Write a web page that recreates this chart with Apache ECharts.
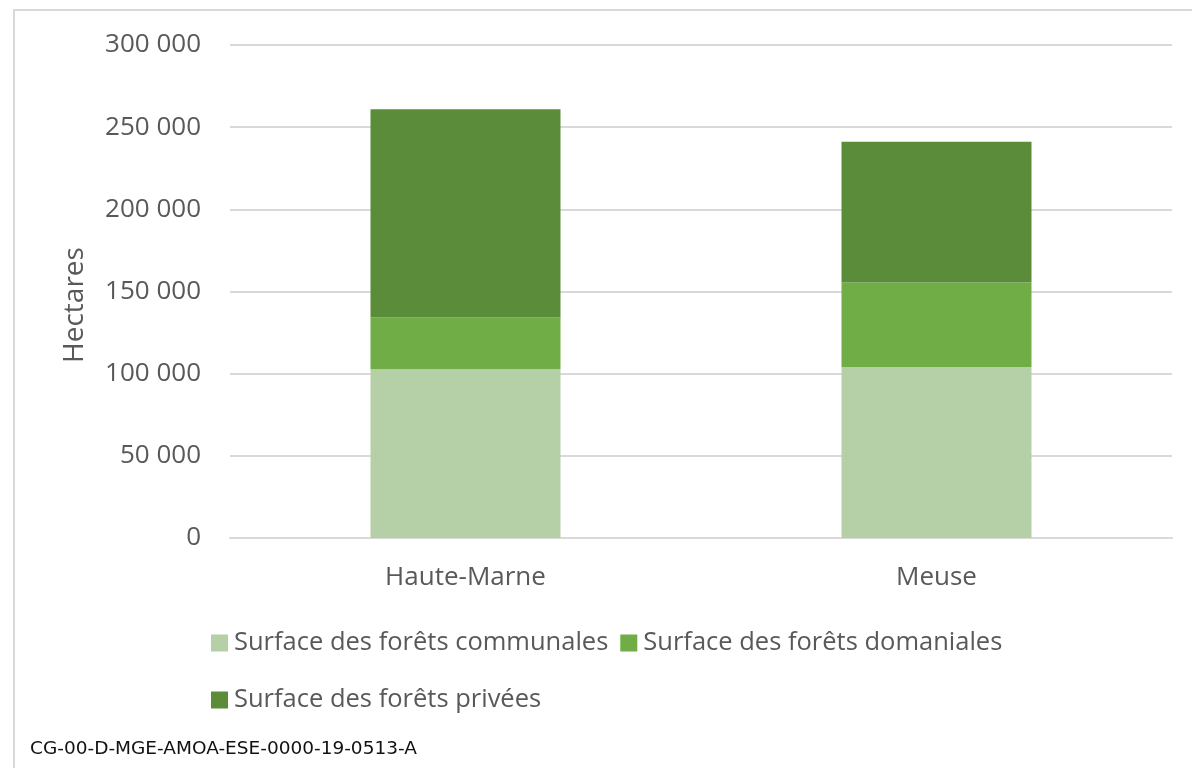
<!DOCTYPE html>
<html>
<head>
<meta charset="utf-8">
<script src="https://cdn.jsdelivr.net/npm/echarts@6/dist/echarts.min.js"></script>
<style>
  html, body { margin: 0; padding: 0; background: #ffffff; }
  #chart { width: 1192px; height: 768px; }
</style>
</head>
<body>
<div id="chart"></div>
<script>
// Forest areas by department (hectares)
const categories = ['Haute-Marne', 'Meuse'];
const seriesNames = [
  'Surface des forêts communales',
  'Surface des forêts domaniales',
  'Surface des forêts privées'
];
const communales = [102700, 104100];
const domaniales = [31500, 51400];
const privees = [126700, 85600];
const axisTitle = 'Hectares';
const footerCode = 'CG-00-D-MGE-AMOA-ESE-0000-19-0513-A';

const colors = ['#b5cfa6', '#70ad47', '#5b8c39'];
const textColor = '#595959';
const gridColor = '#d9d9d9';
const font = '"Open Sans", "Noto Sans", sans-serif';

function fmt(v) {
  return String(v).replace(/\B(?=(\d{3})+(?!\d))/g, ' ');
}

const chart = echarts.init(document.getElementById('chart'), null, { renderer: 'canvas' });

const values = [communales, domaniales, privees];

chart.setOption({
  backgroundColor: '#ffffff',
  animation: false,
  grid: { left: 230, right: 20, top: 45, bottom: 230, containLabel: false },
  xAxis: {
    type: 'category',
    data: categories,
    axisLine: { show: true, lineStyle: { color: gridColor, width: 2 } },
    axisTick: { show: false },
    axisLabel: { color: textColor, fontSize: 26, fontFamily: font, margin: 27 }
  },
  yAxis: {
    type: 'value',
    min: 0,
    max: 300000,
    interval: 50000,
    axisLine: { show: false },
    axisTick: { show: false },
    splitLine: { lineStyle: { color: gridColor, width: 2 } },
    axisLabel: {
      color: textColor, fontSize: 26, fontFamily: font, margin: 29,
      formatter: fmt
    }
  },
  legend: [
    {
      data: seriesNames.slice(0, 2),
      left: 206, top: 625,
      orient: 'horizontal',
      icon: 'rect', itemWidth: 17, itemHeight: 17, itemGap: 12,
      textStyle: { color: textColor, fontSize: 25.5, fontFamily: font, padding: [0, 0, 0, 1] }
    },
    {
      data: seriesNames.slice(2),
      left: 206, top: 682,
      orient: 'horizontal',
      icon: 'rect', itemWidth: 17, itemHeight: 17,
      textStyle: { color: textColor, fontSize: 25.5, fontFamily: font, padding: [0, 0, 0, 1] }
    }
  ],
  graphic: [
    {
      type: 'rect',
      shape: { x: 14, y: 10, width: 1200, height: 800 },
      style: { fill: 'none', stroke: gridColor, lineWidth: 2 },
      silent: true
    },
    {
      type: 'text',
      x: 75, y: 305,
      rotation: Math.PI / 2,
      style: {
        text: axisTitle, fill: textColor, fontSize: 28, fontFamily: font,
        align: 'center', verticalAlign: 'middle'
      }
    },
    {
      type: 'text',
      left: 30, top: 740,
      style: {
        text: footerCode, fill: '#111111', fontSize: 18.5,
        fontFamily: '"DejaVu Sans", sans-serif'
      }
    }
  ],
  series: seriesNames.map((name, i) => ({
    name,
    type: 'bar',
    stack: 'total',
    barWidth: 190,
    itemStyle: { color: colors[i] },
    data: values[i]
  }))
});
</script>
</body>
</html>
